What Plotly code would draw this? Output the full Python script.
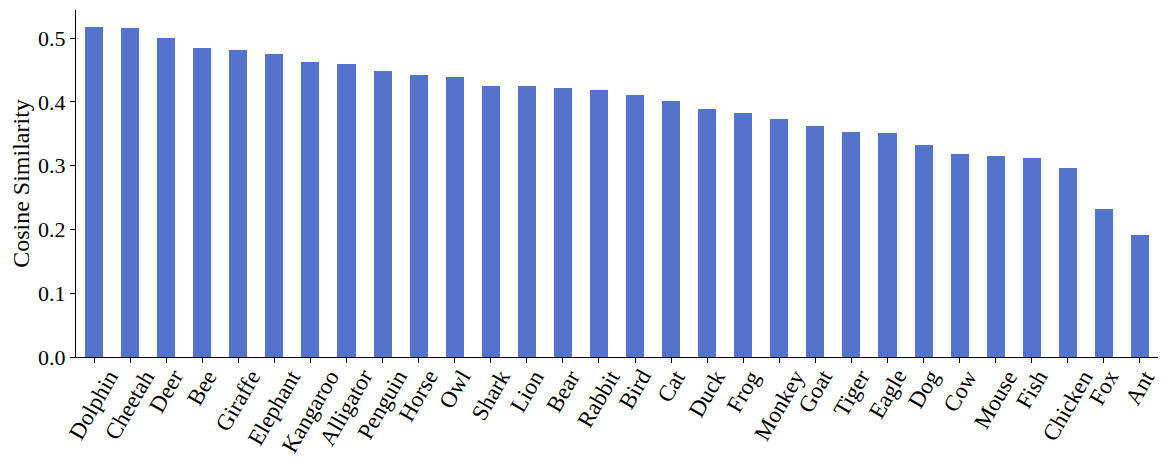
import plotly.graph_objects as go

animals = ["Dolphin", "Cheetah", "Deer", "Bee", "Giraffe", "Elephant", "Kangaroo",
           "Alligator", "Penguin", "Horse", "Owl", "Shark", "Lion", "Bear", "Rabbit",
           "Bird", "Cat", "Duck", "Frog", "Monkey", "Goat", "Tiger", "Eagle", "Dog",
           "Cow", "Mouse", "Fish", "Chicken", "Fox", "Ant"]
similarity = [0.518, 0.516, 0.500, 0.484, 0.481, 0.475, 0.462, 0.459, 0.448, 0.442,
              0.439, 0.425, 0.425, 0.422, 0.419, 0.411, 0.401, 0.389, 0.382, 0.373,
              0.362, 0.353, 0.351, 0.332, 0.318, 0.315, 0.312, 0.296, 0.232, 0.191]
y_ticks = [0.0, 0.1, 0.2, 0.3, 0.4, 0.5]

font_family = "Liberation Serif"

fig = go.Figure(go.Bar(
    x=list(range(len(animals))),
    y=similarity,
    width=0.5,
    marker=dict(color="#5473CB", line=dict(width=0)),
))

# category labels: rotated, centred under each tick (matplotlib style)
for i, name in enumerate(animals):
    fig.add_annotation(
        x=i, y=0, xref="x", yref="y", text=name, showarrow=False,
        textangle=-60, xanchor="center", yanchor="top", yshift=-6,
        font=dict(family=font_family, size=23, color="black"),
    )

fig.update_layout(
    width=1169, height=472,
    margin=dict(l=68, r=19, t=2, b=123),
    plot_bgcolor="white", paper_bgcolor="white",
    font=dict(family=font_family, size=22, color="black"),
    showlegend=False,
    bargap=0,
)
fig.update_xaxes(
    range=[-0.5, len(animals) - 0.5], automargin=False,
    tickmode="array", tickvals=list(range(len(animals))), showticklabels=False,
    ticks="outside", ticklen=5, tickwidth=1.2, tickcolor="black",
    showline=True, linecolor="black", linewidth=1.2, showgrid=False, zeroline=False,
)
fig.update_yaxes(
    range=[0, 0.544], automargin=False,
    tickmode="array", tickvals=y_ticks, ticktext=[f"{v:.1f}" for v in y_ticks],
    ticks="outside", ticklen=5, tickwidth=1.2, tickcolor="black",
    showline=True, linecolor="black", linewidth=1.2, showgrid=False, zeroline=False,
    title=dict(text="Cosine Similarity", font=dict(family=font_family, size=24), standoff=8),
    tickfont=dict(family=font_family, size=22),
)

fig.write_html("out.html")
